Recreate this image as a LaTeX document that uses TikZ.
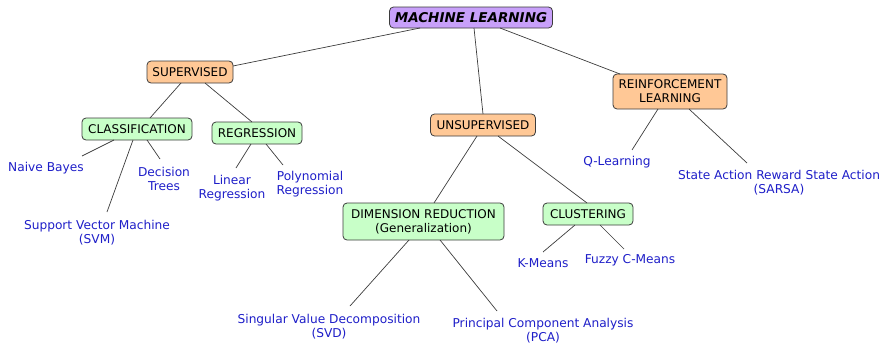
\documentclass[tikz,border=0pt]{standalone}
\usepackage{fontspec}
\setmainfont{DejaVu Sans}
\usetikzlibrary{calc}
\definecolor{mlfill}{RGB}{200,160,250}
\definecolor{orfill}{RGB}{255,200,150}
\definecolor{grfill}{RGB}{200,255,200}
\definecolor{lblue}{RGB}{30,30,200}
\definecolor{edgec}{RGB}{60,60,60}
\begin{document}
\begin{tikzpicture}[x=1pt,y=-1pt,
  box/.style={draw=edgec,line width=0.8pt,rounded corners=4pt,inner xsep=3pt,inner ysep=0pt,
    minimum height=22pt,align=center,font=\fontsize{12}{14}\selectfont,text=black},
  topbox/.style={box,fill=mlfill,font=\fontsize{13.5}{15}\selectfont\bfseries\itshape,minimum height=21pt},
  orbox/.style={box,fill=orfill},
  grbox/.style={box,fill=grfill},
  leaf/.style={inner sep=0pt,align=center,text=lblue,font=\fontsize{12.2}{14}\selectfont},
  conn/.style={draw=edgec,line width=0.7pt}]
\useasboundingbox (0,0) rectangle (880,343);
\node[topbox,minimum width=163pt] (ml) at (471,17.5) {MACHINE LEARNING};
\node[orbox,minimum width=86pt] (sup) at (190,72) {SUPERVISED};
\node[grbox,minimum width=110pt] (cls) at (137,129) {CLASSIFICATION};
\node[grbox,minimum width=90pt] (reg) at (257,133) {REGRESSION};
\node[orbox,minimum width=105pt] (uns) at (483,125) {UNSUPERVISED};
\node[orbox,minimum height=35pt,minimum width=114pt] (rl) at (670,91.5) {REINFORCEMENT\\LEARNING};
\node[grbox,minimum height=37pt,minimum width=161pt] (dr) at (423.5,221.5) {DIMENSION REDUCTION\\(Generalization)};
\node[grbox,minimum width=90pt] (clu) at (588,214) {CLUSTERING};
\node[leaf] (nb) at (46,168.5) {Naive Bayes};
\node[leaf] (dt) at (164,178.5) {Decision\\Trees};
\node[leaf] (svm) at (97,232.5) {Support Vector Machine\\(SVM)};
\node[leaf] (lin) at (232,188) {Linear\\Regression};
\node[leaf] (poly) at (310,184) {Polynomial\\Regression};
\node[leaf] (ql) at (617,162.5) {Q-Learning};
\node[leaf] (sarsa) at (779,182.5) {State Action Reward State Action\\(SARSA)};
\node[leaf] (km) at (543,263.5) {K-Means};
\node[leaf] (fcm) at (630,260.5) {Fuzzy C-Means};
\node[leaf] (svd) at (329,326.5) {Singular Value Decomposition\\(SVD)};
\node[leaf] (pca) at (543,330.5) {Principal Component Analysis\\(PCA)};
\draw[conn] ($(ml)+(-51,10.5)$) -- ($(sup)+(43,-6)$);
\draw[conn] ($(ml)+(3,10.5)$) -- ($(uns)+(0,-11)$);
\draw[conn] ($(ml)+(29,10.5)$) -- ($(rl)+(-50,-17.5)$);
\draw[conn] ($(sup)+(-9,11)$) -- ($(cls)+(13,-11)$);
\draw[conn] ($(sup)+(15,11)$) -- ($(reg)+(-5,-11)$);
\draw[conn] ($(cls)+(-23,11)$) -- ($(nb)+(36,-12.5)$);
\draw[conn] ($(cls)+(-4,11)$) -- ($(svm)+(10,-20.5)$);
\draw[conn] ($(cls)+(10,11)$) -- ($(dt)+(-4,-19.5)$);
\draw[conn] ($(reg)+(-6,11)$) -- ($(lin)+(4,-20)$);
\draw[conn] ($(reg)+(9,11)$) -- ($(poly)+(-27,-19)$);
\draw[conn] ($(uns)+(-6,11)$) -- ($(dr)+(10.5,-18.5)$);
\draw[conn] ($(uns)+(15,11)$) -- ($(clu)+(-1,-11)$);
\draw[conn] ($(rl)+(-12,17.5)$) -- ($(ql)+(15,-12.5)$);
\draw[conn] ($(rl)+(19,17.5)$) -- ($(sarsa)+(-32,-19.5)$);
\draw[conn] ($(dr)+(-14.5,18.5)$) -- ($(svd)+(21,-20.5)$);
\draw[conn] ($(dr)+(16.5,18.5)$) -- ($(pca)+(-46,-19.5)$);
\draw[conn] ($(clu)+(-13,11)$) -- ($(km)+(0,-11.5)$);
\draw[conn] ($(clu)+(12,11)$) -- ($(fcm)+(-6,-11.5)$);
\end{tikzpicture}
\end{document}
